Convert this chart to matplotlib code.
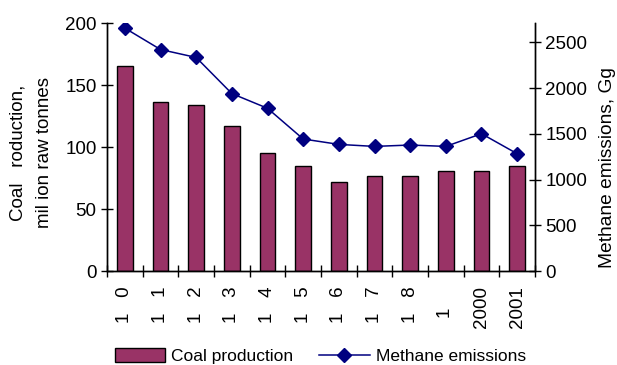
import matplotlib
matplotlib.use("Agg")
import matplotlib.pyplot as plt
import numpy as np

plt.rcParams['font.family'] = ['Liberation Sans', 'DejaVu Sans']
plt.rcParams['font.size'] = 13
plt.rcParams['xtick.labelsize'] = 13.5
plt.rcParams['ytick.labelsize'] = 13.5

# year labels as they appear under the bars
years = ["1   0", "1   1", "1   2", "1   3", "1   4", "1   5",
         "1   6", "1   7", "1   8", "1    ", "2000", "2001"]
coal = [165, 136, 134, 117, 95, 85, 72, 77, 77, 81, 81, 85]
methane = [2657, 2423, 2336, 1941, 1780, 1444, 1385, 1363, 1378, 1363, 1502, 1283]

W, H = 617, 365
fig = plt.figure(figsize=(W / 100, H / 100), dpi=100)
ax = fig.add_axes([107 / W, 1 - 271 / H, (535 - 107) / W, (271 - 23) / H])
ax2 = ax.twinx()

x = np.arange(len(years))
bars = ax.bar(x, coal, width=0.44, color='#993366', edgecolor='black',
              linewidth=1, label='Coal production', zorder=2)
line, = ax2.plot(x, methane, color='#000080', linewidth=1.1, marker='D',
                 markersize=7, label='Methane emissions', zorder=3)

ax.set_xlim(-0.5, len(years) - 0.5)
ax.set_ylim(0, 200)
ax.set_yticks([0, 50, 100, 150, 200])
ax2.set_ylim(0, 2713)
ax2.set_yticks([0, 500, 1000, 1500, 2000, 2500])

# ticks between categories, labels centred under the bars
ax.set_xticks(np.arange(len(years) + 1) - 0.5)
ax.set_xticklabels([])
ax.set_xticks(x, minor=True)
ax.set_xticklabels(years, minor=True, rotation=90, va='top', ha='center')
ax.tick_params(axis='x', which='major', direction='inout', length=8, width=1)
ax.tick_params(axis='x', which='minor', length=0, pad=11)
ax.tick_params(axis='y', direction='inout', length=9, width=1, pad=3)
ax2.tick_params(axis='y', direction='inout', length=9, width=1, pad=3)

for a in (ax, ax2):
    a.spines['top'].set_visible(False)
    for s in ('left', 'right', 'bottom'):
        a.spines[s].set_linewidth(1)

ax.patch.set_alpha(0)
ax2.set_zorder(ax.get_zorder() + 1)

fig.text(18 / W, 1 - 153 / H, "Coal   roduction,", rotation=90,
         ha='center', va='center', fontsize=13.5)
fig.text(45 / W, 1 - 153 / H, "mil ion raw tonnes", rotation=90,
         ha='center', va='center', fontsize=13.5)
fig.text(607 / W, 1 - 168 / H, "Methane emissions, Gg", rotation=90,
         ha='center', va='center', fontsize=13.8)

fig.legend(handles=[bars, line], loc='center left',
           bbox_to_anchor=(106 / W, 1 - 356 / H), ncol=2, frameon=False,
           fontsize=12.5, borderpad=0, handlelength=2.9, handleheight=0.9,
           handletextpad=0.35, columnspacing=1.5)

fig.savefig("out.png", dpi=100)
